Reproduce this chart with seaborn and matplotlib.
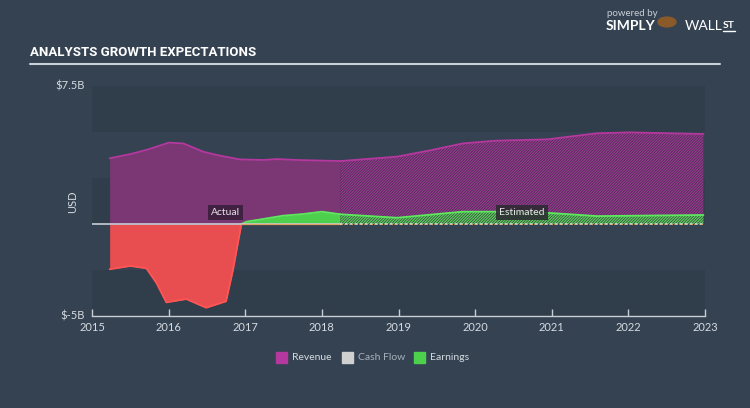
import matplotlib
matplotlib.use("Agg")
import matplotlib.pyplot as plt
import seaborn as sns
import numpy as np
from matplotlib.patches import Rectangle, Circle

# ---------------- data (USD billions) ----------------
rev_act_x = [2015.23, 2015.5, 2015.73, 2016.0, 2016.19, 2016.32, 2016.45, 2016.63,
             2016.93, 2017.24, 2017.41, 2017.67, 2018.24]
rev_act_y = [3.57, 3.8, 4.05, 4.42, 4.38, 4.16, 3.93, 3.75, 3.51, 3.48, 3.53, 3.48, 3.42]

rev_est_x = [2018.24, 2018.98, 2019.41, 2019.84, 2020.28, 2020.94, 2021.59, 2022.02, 2022.98]
rev_est_y = [3.42, 3.66, 4.0, 4.38, 4.53, 4.6, 4.93, 4.98, 4.89]

earn_act_x = [2015.23, 2015.5, 2015.71, 2015.84, 2015.97, 2016.23, 2016.49, 2016.75,
              2016.84, 2016.95, 2017.02, 2017.23, 2017.49, 2017.75, 2018.0, 2018.24]
earn_act_y = [-2.46, -2.28, -2.41, -3.2, -4.26, -4.08, -4.55, -4.2,
              -2.5, 0.0, 0.13, 0.27, 0.45, 0.54, 0.67, 0.53]

earn_est_x = [2018.24, 2018.98, 2019.84, 2020.72, 2021.59, 2022.98]
earn_est_y = [0.53, 0.34, 0.67, 0.67, 0.43, 0.49]

cash_x = [2016.95, 2018.24, 2022.98]
cash_y = [0.02, 0.02, 0.02]

x_ticks = [2015, 2016, 2017, 2018, 2019, 2020, 2021, 2022, 2023]
y_tick_vals = [7.5, -5]
y_tick_labels = ["$7.5B", "$-5B"]
legend_labels = ["Revenue", "Cash Flow", "Earnings"]

# ---------------- style ----------------
BG = "#344252"
BAND = "#303d4b"
REV_FILL = "#7a3773"
REV_LINE = "#b4389e"
RED_FILL = "#e84d4f"
RED_LINE = "#ff5555"
GREEN_FILL = "#4dd14d"
GREEN_LINE = "#5ee85e"
TXT = "#d5dbe1"

sns.set_theme(style="dark")
plt.rcParams["font.family"] = ["Lato", "DejaVu Sans"]
plt.rcParams["hatch.linewidth"] = 0.9

fig = plt.figure(figsize=(7.5, 4.08), dpi=100)
fig.patch.set_facecolor(BG)
ax = fig.add_axes([92/750, 1-316/408, (705-92)/750, (316-86)/408])
ax.set_facecolor(BG)

ax.set_xlim(2015, 2023)
ax.set_ylim(-5, 7.5)

# alternating bands
for lo in [5, 0, -5]:
    ax.axhspan(lo, lo + 2.5, color=BAND, zorder=0, lw=0)

# revenue actual
ax.fill_between(rev_act_x, 0, rev_act_y, color=REV_FILL, lw=0, zorder=2)
# revenue estimated (hatched)
ax.fill_between(rev_est_x, 0, rev_est_y, facecolor="#3d2d48", edgecolor="#9a3a90",
                hatch="/" * 12, lw=0, zorder=2)

# earnings actual
ex = np.array(earn_act_x); ey = np.array(earn_act_y)
ax.fill_between(ex, 0, ey, where=ey <= 0, color=RED_FILL, lw=0, zorder=3, interpolate=True)
ax.fill_between(ex, 0, ey, where=ey >= 0, color=GREEN_FILL, lw=0, zorder=3, interpolate=True)
# earnings estimated (hatched)
ax.fill_between(earn_est_x, 0, earn_est_y, facecolor="#354640", edgecolor="#5ccc5c",
                hatch="/" * 12, lw=0, zorder=3)

# lines via seaborn
idx_zero = int(np.where(ey == 0)[0][0])
sns.lineplot(x=list(ex[:idx_zero+1]), y=list(ey[:idx_zero+1]), ax=ax, color=RED_LINE,
             lw=1.3, zorder=4, sort=False)
sns.lineplot(x=list(ex[idx_zero:]), y=list(ey[idx_zero:]), ax=ax, color=GREEN_LINE,
             lw=1.3, zorder=4, sort=False)
sns.lineplot(x=earn_est_x, y=earn_est_y, ax=ax, color=GREEN_LINE, lw=1.3, zorder=4, sort=False)
sns.lineplot(x=rev_act_x, y=rev_act_y, ax=ax, color=REV_LINE, lw=1.3, zorder=4, sort=False)
sns.lineplot(x=rev_est_x, y=rev_est_y, ax=ax, color=REV_LINE, lw=1.3, zorder=4, sort=False)

# zero line and cash flow
ax.plot([2015, 2018.24], [0, 0], color="#c9ced4", lw=1.2, zorder=5)
sns.lineplot(x=cash_x[:2], y=cash_y[:2], ax=ax, color="#e0a060", lw=0.9, zorder=5, sort=False)
ax.plot([2018.24, 2022.98], [0, 0], color="#d9d9d9", lw=1.2, ls=(0, (1.5, 1.5)), zorder=5)
ax.plot([2018.24, 2022.98], [0.02, 0.02], color="#e0a060", lw=0.6, ls=(1.5, (1.5, 1.5)), zorder=5)

# labels
bbox = dict(boxstyle="square,pad=0.3", fc="#3b1f3c", ec="none", alpha=0.9)
ax.text(2016.74, 0.62, "Actual", color="#e8e0ea", fontsize=7.5, ha="center", va="center",
        bbox=bbox, zorder=6)
bbox2 = dict(boxstyle="square,pad=0.3", fc="#2a2a30", ec="none", alpha=0.85)
ax.text(2020.61, 0.62, "Estimated", color="#e8e8e8", fontsize=7.5, ha="center", va="center",
        bbox=bbox2, zorder=6)

# axes styling
for s in ["top", "right", "left"]:
    ax.spines[s].set_visible(False)
ax.spines["bottom"].set_color("#c9ced4")
ax.spines["bottom"].set_linewidth(1.0)
ax.set_xticks(x_ticks)
ax.set_xticklabels([str(t) for t in x_ticks])
ax.tick_params(axis="x", colors="#c9ced4", labelcolor=TXT, labelsize=8, length=5,
               width=1, direction="in", pad=4, bottom=True)
ax.set_yticks([])
ax.grid(False)
ax.set_xlabel("")
ax.set_ylabel("")
for v, lab in zip(y_tick_vals, y_tick_labels):
    ax.text(-0.012, v, lab, transform=ax.get_yaxis_transform(), ha="right", va="center",
            color=TXT, fontsize=8)
fig.text(73/750, 1-202/408, "USD", rotation=90, color=TXT, fontsize=8, ha="center", va="center")

# legend
cols = [REV_LINE, "#d0d0d0", GREEN_FILL]
lx = [276, 342, 414]
tcols = [TXT, "#a9b1ba", TXT]
for x0, c, lab, tc in zip(lx, cols, legend_labels, tcols):
    fig.patches.append(Rectangle((x0/750, 1-362.5/408), 11/750, 11/408, transform=fig.transFigure,
                                 color=c, figure=fig))
    fig.text((x0+16)/750, 1-357/408, lab, color=tc, fontsize=7.5, va="center", ha="left")

# title
fig.text(30/750, 1-53/408, "ANALYSTS GROWTH EXPECTATIONS", color="white", fontsize=9.5,
         fontweight="bold", family=["Roboto", "DejaVu Sans"], fontstretch="condensed",
         va="center", ha="left")
fig.add_artist(plt.Line2D([30/750, 720/750], [1-64/408, 1-64/408], color="#c8d0d8", lw=1.5))

# logo
fig.text(607/750, 1-14/408, "powered by", color="#c9ced4", fontsize=7, va="center", ha="left")
fig.text(606/750, 1-26.5/408, "SIMPLY", color="white", fontsize=10, fontweight="bold",
         va="center", ha="left")
fig.patches.append(Circle((667/750, 1-22/408), 9/750, transform=fig.transFigure,
                          color="#8a5a2a", figure=fig))
fig.text(685/750, 1-26.5/408, "WALL", color="white", fontsize=10, va="center", ha="left")
fig.text(723/750, 1-25/408, "ST", color="white", fontsize=7.5, fontweight="bold",
         va="center", ha="left")
fig.add_artist(plt.Line2D([723/750, 735/750], [1-31/408, 1-31/408], color="white", lw=1))

fig.savefig("out.png", dpi=100, facecolor=BG)
